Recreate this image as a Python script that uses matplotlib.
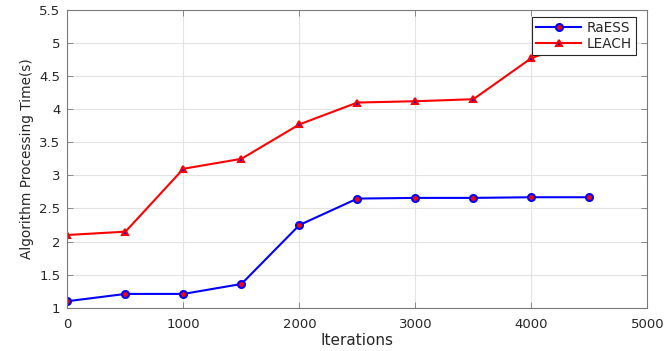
import matplotlib
matplotlib.use("Agg")
import matplotlib.pyplot as plt

plt.rcParams['font.family'] = ['DejaVu Sans']

iterations = [0, 500, 1000, 1500, 2000, 2500, 3000, 3500, 4000, 4500]
raess = [1.10, 1.21, 1.21, 1.36, 2.25, 2.65, 2.66, 2.66, 2.67, 2.67]
leach = [2.10, 2.15, 3.10, 3.25, 3.77, 4.10, 4.12, 4.15, 4.77, 5.08]
xticks = [0, 1000, 2000, 3000, 4000, 5000]
yticks = [1, 1.5, 2, 2.5, 3, 3.5, 4, 4.5, 5, 5.5]
ytick_labels = ['1', '1.5', '2', '2.5', '3', '3.5', '4', '4.5', '5', '5.5']

fig = plt.figure(figsize=(6.68, 3.51), dpi=100)
ax = fig.add_axes([0.101, 0.123, 0.868, 0.849])

ax.plot(iterations, raess, color='#0000ff', lw=1.5, marker='o', ms=5,
        mfc='#ff0000', mec='#0000ff', mew=1.5, label='RaESS')
ax.plot(iterations, leach, color='#ff0000', lw=1.5, marker='^', ms=5,
        mfc='#0000ff', mec='#ff0000', mew=1.5, label='LEACH')

ax.set_xlim(0, 5000)
ax.set_ylim(1, 5.5)
ax.set_xticks(xticks)
ax.set_yticks(yticks)
ax.set_yticklabels(ytick_labels)
ax.grid(True, color='#e3e3e3', lw=0.8)
ax.set_axisbelow(True)

text_color = '#262626'
for s in ax.spines.values():
    s.set_color('#7a7a7a')
    s.set_linewidth(0.8)
ax.tick_params(direction='in', length=4, width=0.6, colors='#7a7a7a',
               labelcolor=text_color, labelsize=9.5,
               top=True, right=True)
ax.tick_params(axis='x', pad=7)
ax.tick_params(axis='y', pad=5)

ax.set_xlabel('Iterations', fontsize=11, color=text_color, labelpad=2)
ax.set_ylabel('Algorithm Processing Time(s)', fontsize=9.8, color=text_color, labelpad=4)

leg = ax.legend(loc='upper right', bbox_to_anchor=(0.985, 0.985), fontsize=9.8,
                frameon=True, fancybox=False, edgecolor='#262626',
                framealpha=1, facecolor='white',
                borderpad=0.3, handlelength=3.3, labelspacing=0.12,
                handletextpad=0.4, borderaxespad=0.2)
leg.get_frame().set_linewidth(0.8)
for t in leg.get_texts():
    t.set_color(text_color)

fig.savefig('out.png', dpi=100)
